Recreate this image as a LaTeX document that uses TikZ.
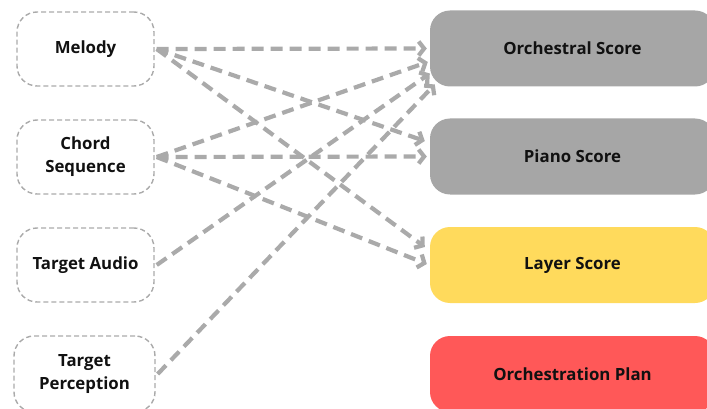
\documentclass[tikz,border=0pt]{standalone}
\usepackage{fontspec}
\setmainfont{Open Sans}
\usetikzlibrary{arrows.meta,calc}
\definecolor{boxgray}{RGB}{166,166,166}
\definecolor{linegray}{RGB}{170,170,170}
\definecolor{dashgray}{RGB}{170,170,170}
\definecolor{boxyellow}{RGB}{255,218,92}
\definecolor{boxred}{RGB}{255,88,88}
\definecolor{txt}{RGB}{17,17,17}
\begin{document}
\begin{tikzpicture}[x=1pt,y=-1pt,
  inbox/.style={draw=dashgray, line width=1.4pt, dash pattern=on 5pt off 3pt, rounded corners=20pt,
    minimum width=137pt, minimum height=74pt, align=center, font=\fontsize{16.8}{23}\selectfont\bfseries, text=txt, inner sep=0pt},
  outbox/.style={rounded corners=20pt, minimum width=285pt, minimum height=76pt,
    font=\fontsize{16.8}{20}\selectfont\bfseries, text=txt, inner sep=0pt},
  link/.style={draw=linegray, line width=4.2pt, dash pattern=on 12pt off 7pt,
    -{Straight Barb[length=5.5pt,width=14pt]}}
]
\useasboundingbox (0,0) rectangle (707,409);
\node[inbox] (mel) at (85.5,49) {Melody};
\node[inbox] (chd) at (85.5,157) {Chord\\Sequence};
\node[inbox] (aud) at (85.5,265) {Target Audio};
\node[inbox, minimum width=141pt, minimum height=76pt] (per) at (84.5,374) {Target\\Perception};

\node[outbox, fill=boxgray] (orch) at (572.5,48.5) {Orchestral Score};
\node[outbox, fill=boxgray] (pia) at (572.5,156.5) {Piano Score};
\node[outbox, fill=boxyellow] (lay) at (572.5,265) {Layer Score};
\node[outbox, fill=boxred] (plan) at (572.5,374) {Orchestration Plan};

\draw[link] ($(mel.east)+(2,0)$) -- ($(orch.west)+(-3,0)$);
\draw[link] ($(mel.east)+(2,0)$) -- ($(pia.west)+(-5,-15.5)$);
\draw[link] ($(mel.east)+(2,0)$) -- ($(lay.west)+(-5,-18)$);
\draw[link] ($(chd.east)+(2,0)$) -- ($(orch.west)+(-2,13.5)$);
\draw[link] ($(chd.east)+(2,0)$) -- ($(pia.west)+(-3,0)$);
\draw[link] ($(chd.east)+(2,0)$) -- ($(lay.west)+(-3,-1)$);
\draw[link] ($(aud.east)+(2,0)$) -- ($(orch.west)+(0,25)$);
\draw[link] ($(per.east)+(2,0)$) -- ($(orch.west)+(5,36)$);
\end{tikzpicture}
\end{document}
